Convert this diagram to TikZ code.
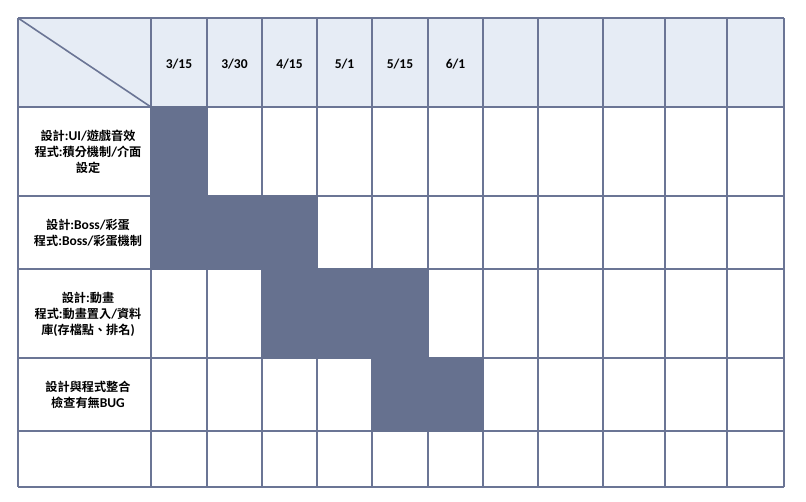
\documentclass[tikz,border=0pt]{standalone}
\usepackage{fontspec}
\setmainfont{Carlito}[BoldFont={Carlito Bold}]
\newfontfamily\cjk{Noto Sans CJK TC}[Scale=0.9,BoldFont={Noto Sans CJK TC Bold}]
\usepackage{xcolor}
\usepackage{tikz}
\definecolor{gridline}{HTML}{6B7595}
\definecolor{bar}{HTML}{66718F}
\definecolor{headfill}{HTML}{E6ECF5}

\begin{document}
\begin{tikzpicture}[x=1pt,y=-1pt,
	gridpen/.style={draw=gridline,line width=2pt},
	barcell/.style={fill=bar},
	rowtext/.style={font=\bfseries\fontsize{13.5}{16}\selectfont,align=center,inner sep=0pt},
	datetext/.style={font=\bfseries\fontsize{13.5}{16}\selectfont,inner sep=0pt}]
	\useasboundingbox (0,0) rectangle (806,501);
	\def\L{18}
	\def\R{784}
	\def\T{18}
	\def\B{487}
	
	% header band
	\fill[headfill] (\L,\T) rectangle (\R,107);
	
	% grid
	\foreach \x in {18,151,207,262,317,372,428,483,538,603,665,727,784}
		\draw[gridpen] (\x,\T) -- (\x,\B);
	\foreach \y in {18,107,196,269,358,431,487}
		\draw[gridpen] (\L,\y) -- (\R,\y);
	\draw[gridline,line width=1.6pt] (\L,\T) -- (151,107);
	
	% bars, over the grid
	\fill[barcell] (150,106) rectangle (208,197);
	\fill[barcell] (150,195) rectangle (318,270);
	\fill[barcell] (261,268) rectangle (429,359);
	\fill[barcell] (371,357) rectangle (484,432);
	
	% dates
	\foreach \x/\m/\dd [count=\i] in {179/3/15,234.5/3/30,289.5/4/15,344.5/5/1,400/5/15,455.5/6/1}
		\node[datetext] (d\i) at (\x,64) {\m/\dd};
	
	% tasks
	\node[rowtext] (t1) at (88,152) {{\cjk 設計}:UI/{\cjk 遊戲音效}\\{\cjk 程式}:{\cjk 積分機制}/{\cjk 介面}\\{\cjk 設定}};
	\node[rowtext] (t2) at (88,233) {{\cjk 設計}:Boss/{\cjk 彩蛋}\\{\cjk 程式}:Boss/{\cjk 彩蛋機制}};
	\node[rowtext] (t3) at (88,314) {{\cjk 設計}:{\cjk 動畫}\\{\cjk 程式}:{\cjk 動畫置入}/{\cjk 資料}\\{\cjk 庫}({\cjk 存檔點、排名})};
	\node[rowtext] (t4) at (88,395) {{\cjk 設計與程式整合}\\{\cjk 檢查有無}BUG};
\end{tikzpicture}
\end{document}
